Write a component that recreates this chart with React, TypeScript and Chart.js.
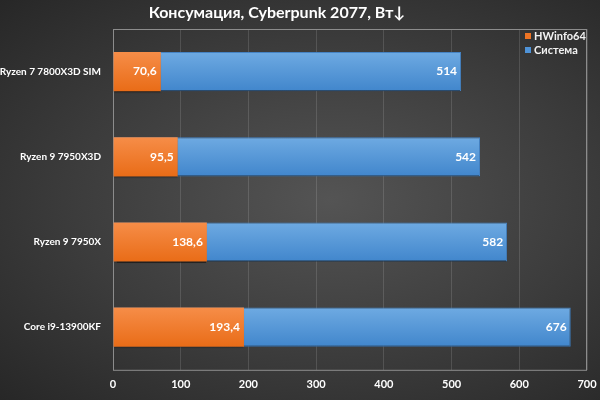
import { useRef, useEffect } from "react";
import Chart from "chart.js/auto";

const categories = ["Ryzen 7 7800X3D SIM", "Ryzen 9 7950X3D", "Ryzen 9 7950X", "Core i9-13900KF"];
const hwinfo = [70.6, 95.5, 138.6, 193.4];
const system = [514, 542, 582, 676];
const seriesNames = ["HWinfo64", "Система"];
const titleText = "Консумация, Cyberpunk 2077, Вт↓";

const FONT = "Lato, 'Open Sans', 'DejaVu Sans', sans-serif";
const BAR_PCT = 0.46;

function barGradient(ctx: any, top: [string, string]) {
  const chart = ctx.chart;
  const y = chart.scales?.y;
  if (!chart.chartArea || !y || ctx.dataIndex === undefined) return top[1];
  const c = y.getPixelForValue(ctx.dataIndex);
  const h = ((chart.chartArea.bottom - chart.chartArea.top) / categories.length) * BAR_PCT;
  const g = chart.ctx.createLinearGradient(0, c - h / 2, 0, c + h / 2);
  g.addColorStop(0, top[0]);
  g.addColorStop(1, top[1]);
  return g;
}

const fmt = (v: number) => (Number.isInteger(v) ? String(v) : v.toFixed(1).replace(".", ","));

const decor = {
  id: "decor",
  beforeDatasetsDraw(chart: any) {
    const { ctx, chartArea: a } = chart;
    ctx.save();
    ctx.strokeStyle = "#8c8c8c";
    ctx.lineWidth = 1;
    ctx.strokeRect(a.left + 0.5, a.top + 0.5, a.right - a.left - 1, a.bottom - a.top);
    // title
    ctx.font = `bold 16px ${FONT}`;
    ctx.fillStyle = "#ffffff";
    ctx.textAlign = "center";
    ctx.textBaseline = "middle";
    ctx.fillText(titleText, 277, 13);
    ctx.restore();
  },
  beforeDatasetDraw(chart: any) {
    const ctx = chart.ctx;
    ctx.save();
    ctx.shadowColor = "rgba(0,0,0,0.5)";
    ctx.shadowOffsetY = 1.5;
    ctx.shadowOffsetX = 0;
    ctx.shadowBlur = 1.5;
  },
  afterDatasetDraw(chart: any) {
    chart.ctx.restore();
  },
  afterDatasetsDraw(chart: any) {
    const { ctx, chartArea: a } = chart;
    ctx.save();
    ctx.font = `bold 12px ${FONT}`;
    ctx.fillStyle = "#ffffff";
    ctx.textAlign = "right";
    ctx.textBaseline = "middle";
    chart.data.datasets.forEach((ds: any, i: number) => {
      const meta = chart.getDatasetMeta(i);
      meta.data.forEach((bar: any, j: number) => {
        ctx.fillText(fmt(ds.data[j]), bar.x - 4, bar.y);
      });
    });
    // legend
    const colors = ["#ee7424", "#4f93d8"];
    ctx.font = `bold 11px ${FONT}`;
    ctx.textAlign = "left";
    chart.data.datasets.forEach((ds: any, i: number) => {
      const cy = a.top + 7 + i * 14;
      ctx.fillStyle = colors[i];
      ctx.fillRect(a.right - 62, cy - 3, 6, 6);
      ctx.fillStyle = "#f2f2f2";
      ctx.fillText(ds.label, a.right - 53, cy);
    });
    ctx.restore();
  },
};

export default function App() {
  const canvasRef = useRef<HTMLCanvasElement | null>(null);
  const chartRef = useRef<Chart | null>(null);

  useEffect(() => {
    if (!canvasRef.current) return;
    if (chartRef.current) chartRef.current.destroy();

    chartRef.current = new Chart(canvasRef.current, {
      type: "bar",
      data: {
        labels: categories,
        datasets: [
          {
            label: seriesNames[0],
            data: hwinfo,
            backgroundColor: (c: any) => barGradient(c, ["#f68d48", "#e96c17"]),
            grouped: false,
            barPercentage: BAR_PCT,
            categoryPercentage: 1,
          },
          {
            label: seriesNames[1],
            data: system,
            backgroundColor: (c: any) => barGradient(c, ["#6eaae2", "#4186cc"]),
            borderColor: "#4583c4",
            borderWidth: 1,
            grouped: false,
            barPercentage: BAR_PCT,
            categoryPercentage: 1,
          },
        ],
      } as any,
      options: {
        indexAxis: "y",
        animation: false,
        responsive: true,
        maintainAspectRatio: false,
        layout: { padding: { left: 0, right: 13, top: 29, bottom: 1 } },
        plugins: {
          legend: { display: false },
          tooltip: { enabled: false },
          title: { display: false },
        },
        scales: {
          x: {
            min: 0,
            max: 700,
            ticks: {
              stepSize: 100,
              color: "#ffffff",
              font: { family: FONT, size: 11, weight: "bold" },
              padding: 8,
            },
            grid: { color: "rgba(255,255,255,0.13)", drawTicks: false },
            border: { display: false },
            afterFit: (s: any) => {
              s.paddingRight = 0;
              s.paddingLeft = 0;
            },
          },
          y: {
            ticks: {
              color: "#ffffff",
              font: { family: FONT, size: 10, weight: "bold" },
              padding: 4,
            },
            grid: { display: false },
            border: { display: false },
            afterFit: (s: any) => {
              s.width = 113;
            },
          },
        },
      } as any,
      plugins: [decor],
    });

    return () => {
      if (chartRef.current) {
        chartRef.current.destroy();
        chartRef.current = null;
      }
    };
  });

  return (
    <div
      style={{
        position: "absolute",
        left: 0,
        top: 0,
        width: 600,
        height: 400,
        background: "radial-gradient(ellipse at 55% 50%, #545454 0%, #3c3c3c 55%, #272727 100%)",
      }}
    >
      <canvas ref={canvasRef} />
    </div>
  );
}
